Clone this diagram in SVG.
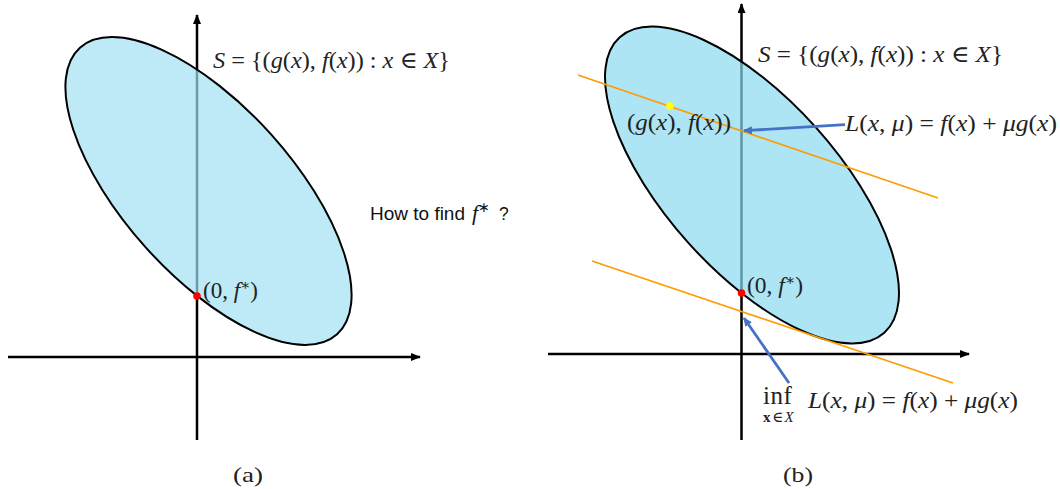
<svg xmlns="http://www.w3.org/2000/svg" width="1060" height="489" viewBox="0 0 1060 489">
<style>
.axis{stroke:#000;stroke-width:2.5;fill:none}
.ell{stroke:#000;stroke-width:2;fill-opacity:0.69}
.orange{stroke:#ff9a00;stroke-width:1.6;fill:none}
.blue{stroke:#4472c4;stroke-width:2.8;fill:none}
.math{font-family:"Liberation Serif","DejaVu Serif",serif;font-size:23px;fill:#222}
.it{font-style:italic}
.sans{font-family:"Liberation Sans",Arial,sans-serif;font-size:17.5px;fill:#111}
.cap{font-family:"Liberation Serif","DejaVu Serif",serif;font-size:22px;fill:#222}
</style>
<defs>
<marker id="ah" markerUnits="userSpaceOnUse" markerWidth="10" markerHeight="8" refX="9" refY="4" orient="auto"><path d="M0,0 L10,4 L0,8 z" fill="#000"/></marker>
<marker id="bh" markerUnits="userSpaceOnUse" markerWidth="9" markerHeight="8" refX="8" refY="4" orient="auto"><path d="M0,0 L9,4 L0,8 z" fill="#4472c4"/></marker>
</defs>
<rect width="1060" height="489" fill="#fff"/>

<g id="panel-a">
  <g id="axes-a">
    <line class="axis" x1="197" y1="440" x2="197" y2="15" marker-end="url(#ah)"/>
    <line class="axis" x1="8" y1="357" x2="420" y2="357" marker-end="url(#ah)"/>
  </g>
  <g id="set-a">
    <ellipse class="ell" fill="#9fe1f2" cx="208.5" cy="191" rx="192.5" ry="84.4" transform="rotate(48.1 208.5 191)"/>
  </g>
  <g id="point-a">
    <circle cx="197" cy="296" r="3.8" fill="#ff0000"/>
  </g>
  <text class="math" x="213" y="68" textLength="237" lengthAdjust="spacingAndGlyphs"><tspan class="it">S</tspan> = {(<tspan class="it">g</tspan>(<tspan class="it">x</tspan>), <tspan class="it">f</tspan>(<tspan class="it">x</tspan>)) : <tspan class="it">x</tspan> ∈ <tspan class="it">X</tspan>}</text>
  <text class="math" x="203" y="298" textLength="55" lengthAdjust="spacingAndGlyphs">(0, <tspan class="it">f</tspan><tspan font-size="15" dy="-8">∗</tspan><tspan dy="8">)</tspan></text>
  <text class="sans" x="370" y="220"><tspan textLength="95" lengthAdjust="spacingAndGlyphs">How to find</tspan><tspan x="472" class="it" font-family="Liberation Serif, serif" font-size="22">f</tspan><tspan font-family="Liberation Serif, serif" font-size="14" dy="-8">∗</tspan><tspan x="499" dy="8">?</tspan></text>
  <text class="cap" x="233" y="482" textLength="30" lengthAdjust="spacingAndGlyphs">(a)</text>
</g>

<g id="panel-b">
  <g id="axes-b">
    <line class="axis" x1="741.5" y1="440" x2="741.5" y2="4" marker-end="url(#ah)"/>
    <line class="axis" x1="548" y1="354" x2="969" y2="354" marker-end="url(#ah)"/>
  </g>
  <g id="set-b">
    <ellipse class="ell" fill="#88d9ef" cx="752" cy="185" rx="198.3" ry="86" transform="rotate(48.16 752 185)"/>
  </g>
  <g id="lagrangian-lines">
    <line class="orange" x1="578" y1="75" x2="938" y2="198"/>
    <line class="orange" x1="592" y1="261" x2="953" y2="383"/>
  </g>
  <g id="point-gf">
    <circle cx="670" cy="106" r="3.8" fill="#ffff00"/>
  </g>
  <g id="point-b">
    <circle cx="741.5" cy="293" r="3.8" fill="#ff0000"/>
  </g>
  <text class="math" x="758" y="62" textLength="245" lengthAdjust="spacingAndGlyphs"><tspan class="it">S</tspan> = {(<tspan class="it">g</tspan>(<tspan class="it">x</tspan>), <tspan class="it">f</tspan>(<tspan class="it">x</tspan>)) : <tspan class="it">x</tspan> ∈ <tspan class="it">X</tspan>}</text>
  <text class="math" x="627" y="130" textLength="104" lengthAdjust="spacingAndGlyphs">(<tspan class="it">g</tspan>(<tspan class="it">x</tspan>), <tspan class="it">f</tspan>(<tspan class="it">x</tspan>))</text>
  <text class="math" x="845" y="131" textLength="212" lengthAdjust="spacingAndGlyphs"><tspan class="it">L</tspan>(<tspan class="it">x</tspan>, <tspan class="it">μ</tspan>) = <tspan class="it">f</tspan>(<tspan class="it">x</tspan>) + <tspan class="it">μg</tspan>(<tspan class="it">x</tspan>)</text>
  <text class="math" x="747" y="293" textLength="56" lengthAdjust="spacingAndGlyphs">(0, <tspan class="it">f</tspan><tspan font-size="15" dy="-8">∗</tspan><tspan dy="8">)</tspan></text>
  <text class="math" x="763" y="404"><tspan font-size="25" letter-spacing="0.5">inf</tspan><tspan x="763" dy="18" font-size="15" letter-spacing="1.5"><tspan font-weight="bold">x</tspan>∈<tspan class="it">X</tspan></tspan></text>
  <text class="math" x="808" y="408" textLength="210" lengthAdjust="spacingAndGlyphs"><tspan class="it">L</tspan>(<tspan class="it">x</tspan>, <tspan class="it">μ</tspan>) = <tspan class="it">f</tspan>(<tspan class="it">x</tspan>) + <tspan class="it">μg</tspan>(<tspan class="it">x</tspan>)</text>
  <text class="cap" x="783" y="482" textLength="30" lengthAdjust="spacingAndGlyphs">(b)</text>
</g>

<g id="connectors">
  <line class="blue" x1="845" y1="124.7" x2="744" y2="130.7" marker-end="url(#bh)"/>
  <line class="blue" x1="789" y1="383" x2="744" y2="318" marker-end="url(#bh)"/>
</g>
</svg>
